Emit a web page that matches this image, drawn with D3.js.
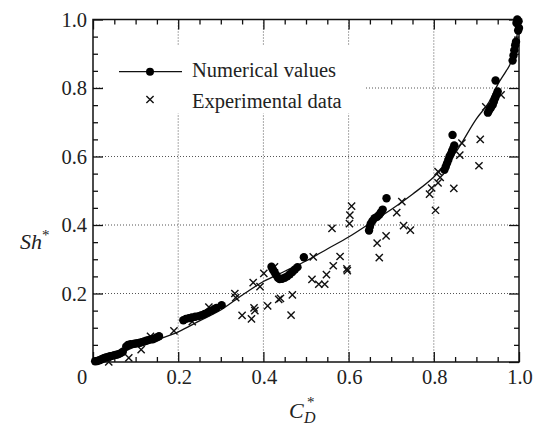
<!DOCTYPE html>
<html>
<head>
<meta charset="utf-8">
<script src="https://cdn.jsdelivr.net/npm/d3@7"></script>
</head>
<body style="margin:0">
<script>
var width = 533,
    height = 427,
    margin = { top: 19.5, right: 14, bottom: 65, left: 93 };

// numerical values (filled dots)
var numX = [0.005, 0.01, 0.015, 0.02, 0.025, 0.03, 0.035, 0.04, 0.045, 0.05, 0.055, 0.06, 0.065, 0.07,
    0.078, 0.082, 0.088, 0.095, 0.1, 0.105, 0.11, 0.115, 0.12, 0.125, 0.13, 0.135, 0.14, 0.145, 0.15, 0.155,
    0.212, 0.218, 0.225, 0.232, 0.24, 0.248, 0.255, 0.262, 0.27, 0.278, 0.285, 0.29, 0.302,
    0.419, 0.422, 0.426, 0.43, 0.434, 0.438, 0.444, 0.45, 0.456, 0.462, 0.468, 0.474, 0.48, 0.495,
    0.648, 0.65, 0.652, 0.656, 0.661, 0.667, 0.672, 0.676, 0.68, 0.689,
    0.825, 0.828, 0.831, 0.834, 0.837, 0.84, 0.843, 0.846, 0.848, 0.844,
    0.927, 0.93, 0.934, 0.938, 0.941, 0.944, 0.947, 0.95, 0.945,
    0.985, 0.987, 0.989, 0.991, 0.993, 0.994, 0.996, 0.999, 1.0, 0.998];
var numY = [0.002, 0.003, 0.005, 0.008, 0.011, 0.013, 0.015, 0.017, 0.018, 0.02, 0.021, 0.023, 0.026, 0.03,
    0.045, 0.05, 0.052, 0.053, 0.054, 0.055, 0.056, 0.058, 0.06, 0.062, 0.064, 0.066, 0.066, 0.069, 0.072, 0.075,
    0.122, 0.126, 0.128, 0.13, 0.132, 0.134, 0.137, 0.14, 0.145, 0.15, 0.155, 0.158, 0.166,
    0.278, 0.27, 0.262, 0.254, 0.246, 0.242, 0.243, 0.246, 0.25, 0.256, 0.263, 0.27, 0.277, 0.306,
    0.384, 0.395, 0.404, 0.412, 0.42, 0.424, 0.43, 0.437, 0.445, 0.478,
    0.561, 0.57, 0.58, 0.59, 0.6, 0.607, 0.617, 0.625, 0.632, 0.663,
    0.728, 0.735, 0.742, 0.75, 0.76, 0.77, 0.78, 0.79, 0.822,
    0.88, 0.895, 0.91, 0.925, 0.935, 0.99, 1.0, 0.995, 0.975, 0.968];

// fitted curve through the numerical values
var curveX = [0, 0.05, 0.1, 0.15, 0.2, 0.25, 0.3, 0.35, 0.4, 0.45, 0.5, 0.55, 0.6, 0.65, 0.7, 0.75,
    0.8, 0.85, 0.9, 0.93, 0.95, 0.97, 0.98, 0.99, 0.995, 1.0];
var curveY = [0, 0.02, 0.045, 0.065, 0.088, 0.12, 0.152, 0.195, 0.235, 0.265, 0.295, 0.33, 0.365, 0.405,
    0.445, 0.49, 0.54, 0.61, 0.71, 0.76, 0.81, 0.85, 0.872, 0.92, 0.95, 1.0];

// experimental data (crosses)
var expX = [0.037, 0.084, 0.113, 0.135, 0.19, 0.233, 0.272,
    0.333, 0.335, 0.35, 0.372, 0.376, 0.378, 0.38, 0.392, 0.401, 0.41, 0.436, 0.44, 0.468, 0.465, 0.426,
    0.517, 0.514, 0.53, 0.544, 0.548, 0.564, 0.58, 0.596, 0.597, 0.561, 0.602, 0.603, 0.607,
    0.667, 0.688, 0.672, 0.713, 0.725, 0.729, 0.745,
    0.79, 0.795, 0.804, 0.81, 0.815, 0.81, 0.847, 0.861, 0.866, 0.906, 0.909, 0.922, 0.958];
var expY = [0.0, 0.012, 0.036, 0.075, 0.091, 0.118, 0.16,
    0.2, 0.188, 0.136, 0.126, 0.232, 0.158, 0.15, 0.22, 0.259, 0.164, 0.183, 0.186, 0.196, 0.137, 0.278,
    0.307, 0.241, 0.227, 0.227, 0.255, 0.281, 0.308, 0.272, 0.267, 0.39, 0.404, 0.429, 0.455,
    0.347, 0.368, 0.305, 0.436, 0.468, 0.398, 0.385,
    0.49, 0.508, 0.443, 0.523, 0.539, 0.556, 0.507, 0.604, 0.639, 0.573, 0.65, 0.745, 0.78];

var majorTicks = [0, 0.2, 0.4, 0.6, 0.8, 1.0];
var minorTicks = [0.05, 0.1, 0.15, 0.25, 0.3, 0.35, 0.45, 0.5, 0.55, 0.65, 0.7, 0.75, 0.85, 0.9, 0.95];
var gridTicks = [0.2, 0.4, 0.6, 0.8];
var legendLabels = ['Numerical values', 'Experimental data'];

var iw = width - margin.left - margin.right,
    ih = height - margin.top - margin.bottom;

var x = d3.scaleLinear().domain([0, 1]).range([0, iw]);
var y = d3.scaleLinear().domain([0, 1]).range([ih, 0]);

var svg = d3.select('body').append('svg')
    .attr('width', width)
    .attr('height', height)
    .style('font-family', "'Liberation Serif'");

svg.append('rect').attr('width', width).attr('height', height).attr('fill', '#fff');

// layers, so the texts can be written first and still sit on top
var gridLayer = svg.append('g').attr('transform', 'translate(' + [margin.left, margin.top] + ')');
var markLayer = svg.append('g').attr('transform', 'translate(' + [margin.left, margin.top] + ')');
var textLayer = svg.append('g');

function label(sel) {
    return sel.append('text')
        .style('font-family', "'Liberation Serif'")
        .style('fill', '#222');
}

// ---- texts ----
majorTicks.forEach(function(d){
    label(textLayer)
        .attr('x', margin.left + (d === 0 ? x(d) - 11 : x(d) + 1))
        .attr('y', margin.top + ih + 21.5)
        .attr('text-anchor', 'middle')
        .style('font-size', '20.5px')
        .text(d === 0 ? '0' : d3.format('.1f')(d));
});
majorTicks.slice(1).forEach(function(d){
    label(textLayer)
        .attr('x', margin.left - 6)
        .attr('y', margin.top + y(d) + 7)
        .attr('text-anchor', 'end')
        .style('font-size', '20.5px')
        .text(d3.format('.1f')(d));
});
legendLabels.forEach(function(d, i){
    label(textLayer)
        .attr('x', 192)
        .attr('y', 77 + i * 31)
        .style('font-size', '20.5px')
        .text(d);
});
var yt = label(textLayer)
    .attr('x', 20).attr('y', 249)
    .style('font-size', '22px')
    .style('font-style', 'italic');
yt.append('tspan').text('Sh');
yt.append('tspan').attr('dy', -9).style('font-size', '15px').style('font-style', 'normal').text('*');

label(textLayer).attr('x', 289).attr('y', 418)
    .style('font-size', '22px').style('font-style', 'italic').text('C');
label(textLayer).attr('x', 304).attr('y', 423)
    .style('font-size', '16px').style('font-style', 'italic').text('D');
label(textLayer).attr('x', 307).attr('y', 407)
    .style('font-size', '15px').text('*');

// ---- grid ----
gridTicks.forEach(function(d){
    gridLayer.append('line')
        .attr('x1', x(d)).attr('x2', x(d)).attr('y1', 0).attr('y2', ih);
    gridLayer.append('line')
        .attr('y1', y(d)).attr('y2', y(d)).attr('x1', 0).attr('x2', iw);
});
gridLayer.selectAll('line')
    .attr('stroke', '#555')
    .attr('stroke-width', 1)
    .attr('stroke-dasharray', '1,2');

// legend background hides the grid
gridLayer.append('rect')
    .attr('x', 12).attr('y', 26)
    .attr('width', 260).attr('height', 68)
    .attr('fill', '#fff');

// ---- axes: major and minor ticks, all pointing inward ----
function drawAxis(axisFn, tr, size, vals) {
    var a = gridLayer.append('g')
        .attr('transform', tr)
        .call(axisFn.tickValues(vals).tickSize(size).tickFormat(''));
    a.select('.domain').remove();
    a.selectAll('text').remove();
    a.attr('font-family', null).attr('font-size', null);
    a.selectAll('line').attr('stroke', '#111').attr('stroke-width', 1.3);
}
drawAxis(d3.axisBottom(x), 'translate(0,' + ih + ')', -10, majorTicks);
drawAxis(d3.axisBottom(x), 'translate(0,' + ih + ')', -5, minorTicks);
drawAxis(d3.axisTop(x), 'translate(0,0)', -10, majorTicks);
drawAxis(d3.axisTop(x), 'translate(0,0)', -5, minorTicks);
drawAxis(d3.axisLeft(y), 'translate(0,0)', -10, majorTicks);
drawAxis(d3.axisLeft(y), 'translate(0,0)', -5, minorTicks);
drawAxis(d3.axisRight(y), 'translate(' + iw + ',0)', -10, majorTicks);
drawAxis(d3.axisRight(y), 'translate(' + iw + ',0)', -5, minorTicks);

gridLayer.append('rect')
    .attr('width', iw).attr('height', ih)
    .attr('fill', 'none')
    .attr('stroke', '#111')
    .attr('stroke-width', 1.5);

// ---- curve ----
var line = d3.line()
    .x(function(d){ return x(d[0]); })
    .y(function(d){ return y(d[1]); })
    .curve(d3.curveMonotoneX);

markLayer.append('path')
    .datum(d3.zip(curveX, curveY))
    .attr('d', line)
    .attr('fill', 'none')
    .attr('stroke', '#111')
    .attr('stroke-width', 1.3);

// crosses
var cs = 3.6;
function cross(sel) {
    sel.append('path')
        .attr('d', 'M' + (-cs) + ',' + (-cs) + 'L' + cs + ',' + cs + 'M' + (-cs) + ',' + cs + 'L' + cs + ',' + (-cs))
        .attr('stroke', '#111')
        .attr('stroke-width', 1.4)
        .attr('fill', 'none');
}
markLayer.selectAll('g.exp').data(d3.zip(expX, expY)).enter().append('g')
    .attr('class', 'exp')
    .attr('transform', function(d){ return 'translate(' + [x(d[0]), y(d[1])] + ')'; })
    .call(cross);

// dots
markLayer.selectAll('circle.num').data(d3.zip(numX, numY)).enter().append('circle')
    .attr('class', 'num')
    .attr('cx', function(d){ return x(d[0]); })
    .attr('cy', function(d){ return y(d[1]); })
    .attr('r', 4.2)
    .attr('fill', '#000');

// legend symbols
var lg = svg.append('g');
lg.append('line')
    .attr('x1', 119).attr('x2', 182).attr('y1', 71.7).attr('y2', 71.7)
    .attr('stroke', '#111').attr('stroke-width', 1.3);
lg.append('circle').attr('cx', 150).attr('cy', 71.7).attr('r', 4).attr('fill', '#000');
lg.append('g').attr('transform', 'translate(150,99.5)').call(cross);
</script>
</body>
</html>
